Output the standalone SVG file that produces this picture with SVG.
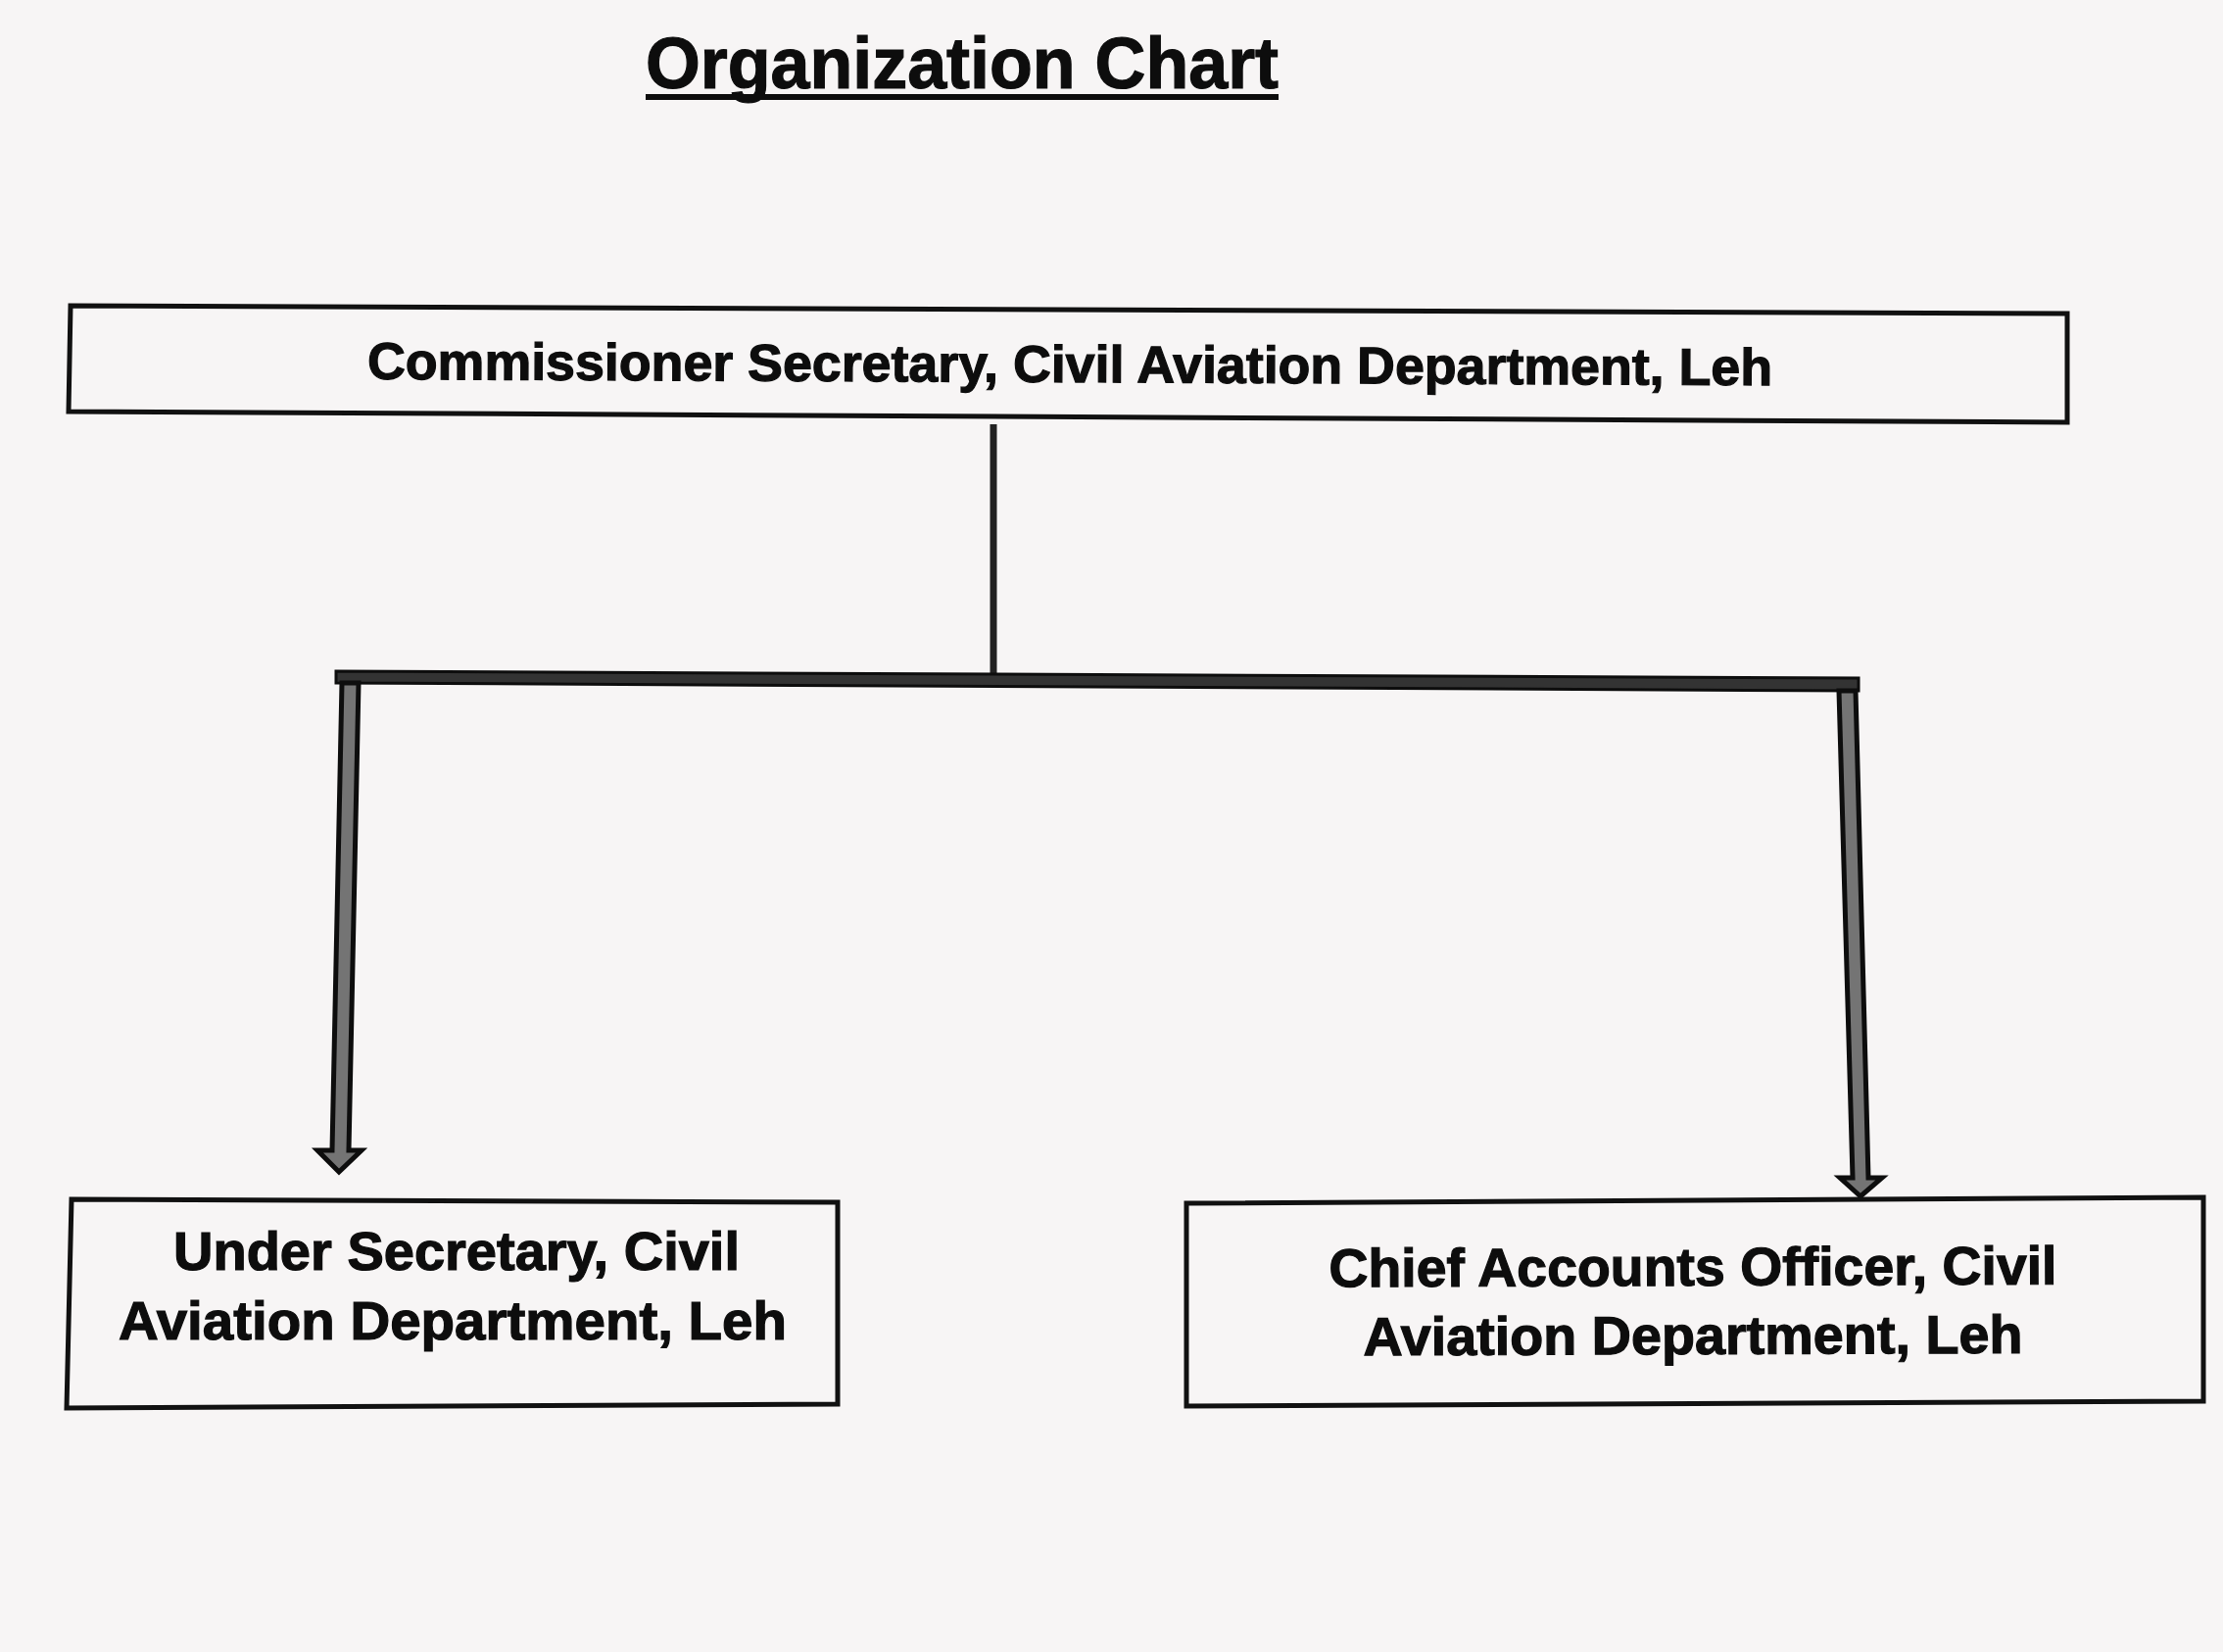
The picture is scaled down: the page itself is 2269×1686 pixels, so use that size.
<svg xmlns="http://www.w3.org/2000/svg" width="2269" height="1686" viewBox="0 0 2269 1686">
<style>
.bg{fill:#f7f5f5}
.box{fill:none;stroke:#111;stroke-width:5;stroke-linejoin:miter}
.lbl{font-family:"Liberation Sans",Arimo,Arial,Helvetica,sans-serif;font-weight:bold;fill:#0d0d0d;stroke:#0d0d0d;stroke-width:1.2;text-anchor:middle}
.title{font-family:"Liberation Sans",Arimo,Arial,Helvetica,sans-serif;font-weight:bold;fill:#0d0d0d;stroke:#0d0d0d;stroke-width:1.2;font-size:74px}
.bar{fill:#333;stroke:#0d0d0d;stroke-width:3}
.arrow{fill:#747474;stroke:#0d0d0d;stroke-width:5;stroke-linejoin:miter}
.stem{stroke:#222;stroke-width:7;fill:none}
</style>
<rect class="bg" x="0" y="0" width="2269" height="1686"/>
<g id="title">
<text class="title" x="659" y="90" textLength="646" lengthAdjust="spacingAndGlyphs">Organization Chart</text>
<line x1="659" y1="99" x2="1305" y2="99" stroke="#0d0d0d" stroke-width="6"/>
</g>
<g id="connectors">
<line class="stem" x1="1014" y1="433" x2="1014" y2="692"/>
<polygon class="bar" points="343,685 1897,692 1897,705 343,697"/>
<path class="arrow" d="M349,697 L366,697 L356,1174 L369,1174 L346,1196 L324,1174 L339,1174 Z"/>
<path class="arrow" d="M1877,705 L1894,705 L1907,1202 L1921,1202 L1899,1221 L1878,1202 L1891,1202 Z"/>
</g>
<g id="node-commissioner">
<polygon class="box" points="72,312 2110,320 2110,431 70,420"/>
<text class="lbl" x="1092" y="390" font-size="53" textLength="1434" lengthAdjust="spacingAndGlyphs" transform="rotate(0.25 1092 390)">Commissioner Secretary, Civil Aviation Department, Leh</text>
</g>
<g id="node-under-secretary">
<polygon class="box" points="73,1224 855,1227 855,1433 68,1437"/>
<text class="lbl" x="466" y="1296" font-size="55" textLength="578" lengthAdjust="spacingAndGlyphs">Under Secretary, Civil</text>
<text class="lbl" x="462" y="1367" font-size="55" textLength="682" lengthAdjust="spacingAndGlyphs">Aviation Department, Leh</text>
</g>
<g id="node-chief-accounts">
<polygon class="box" points="1211,1228 2249,1222 2249,1430 1211,1435"/>
<text class="lbl" x="1728" y="1312" font-size="55" textLength="743" lengthAdjust="spacingAndGlyphs" transform="rotate(-0.2 1728 1312)">Chief Accounts Officer, Civil</text>
<text class="lbl" x="1728" y="1382" font-size="55" textLength="673" lengthAdjust="spacingAndGlyphs" transform="rotate(-0.2 1728 1382)">Aviation Department, Leh</text>
</g>
</svg>
